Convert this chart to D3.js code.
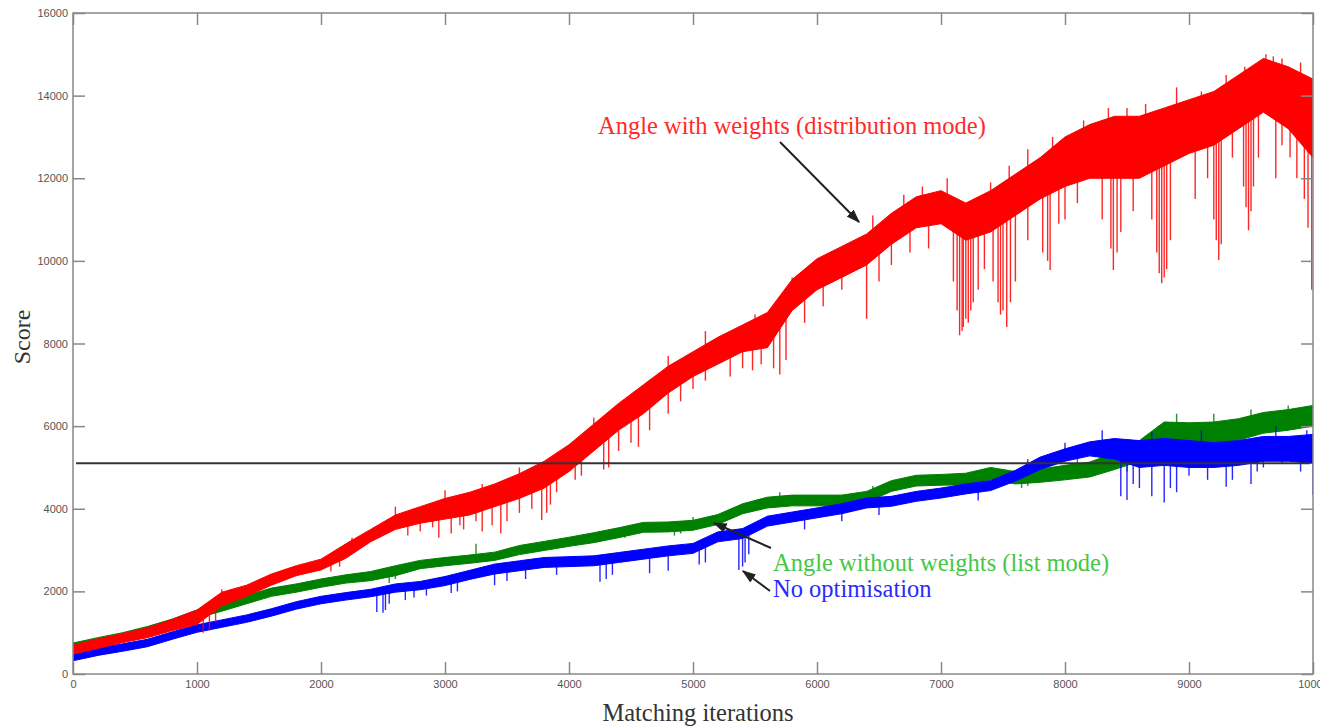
<!DOCTYPE html>
<html>
<head>
<meta charset="utf-8">
<script src="https://cdn.jsdelivr.net/npm/d3@7"></script>
<style>
  body { margin: 0; background: #fff; }
  .tick text { font-family: "Liberation Sans", Arial, sans-serif; font-size: 11px; fill: #555; }
  .tick line { stroke: #888; stroke-width: 1.5; }
  .domain { display: none; }
</style>
</head>
<body>
<div class="chart"></div>
<script>
//= ================================
var iterations = [0, 200, 400, 600, 800, 1000, 1200, 1400, 1600, 1800, 2000, 2200, 2400, 2600, 2800,
  3000, 3200, 3400, 3600, 3800, 4000, 4200, 4400, 4600, 4800, 5000, 5200, 5400, 5600, 5800,
  6000, 6200, 6400, 6600, 6800, 7000, 7200, 7400, 7600, 7800, 8000, 8200, 8400, 8600, 8800,
  9000, 9200, 9400, 9600, 9800, 10000];

// Angle with weights (distribution mode) - upper / lower edge of the dense band
var redTop = [700, 850, 980, 1120, 1320, 1550, 1980, 2150, 2420, 2620, 2780, 3150, 3500, 3850, 4050,
  4250, 4400, 4600, 4850, 5150, 5550, 6050, 6550, 7000, 7450, 7800, 8150, 8450, 8750, 9550,
  10050, 10350, 10650, 11150, 11550, 11700, 11400, 11700, 12100, 12500, 13000, 13300, 13500, 13500, 13700,
  13900, 14100, 14500, 14900, 14700, 14400];
var redBot = [480, 620, 760, 880, 1050, 1200, 1650, 1880, 2150, 2380, 2520, 2800, 3200, 3500, 3650,
  3750, 3850, 4050, 4250, 4500, 4900, 5400, 5900, 6300, 6800, 7200, 7500, 7800, 7900, 8800,
  9300, 9600, 9900, 10400, 10800, 10900, 10500, 10700, 11100, 11500, 11800, 12000, 12000, 12000, 12300,
  12600, 12800, 13200, 13600, 13200, 12500];

// Angle without weights (list mode)
var greenTop = [750, 880, 1000, 1150, 1330, 1550, 1720, 1900, 2080, 2180, 2300, 2400, 2480, 2620, 2750,
  2820, 2880, 2950, 3110, 3210, 3310, 3420, 3540, 3670, 3680, 3720, 3860, 4120, 4280, 4330,
  4330, 4330, 4420, 4680, 4810, 4830, 4860, 5000, 4900, 4960, 5050, 5130, 5350, 5650, 6100,
  6080, 6100, 6180, 6330, 6400, 6500];
var greenBot = [550, 680, 800, 950, 1130, 1350, 1520, 1700, 1880, 1980, 2100, 2200, 2260, 2380, 2550,
  2620, 2680, 2750, 2890, 2990, 3090, 3180, 3300, 3430, 3440, 3480, 3620, 3880, 4020, 4070,
  4070, 4070, 4160, 4420, 4550, 4570, 4580, 4700, 4600, 4640, 4700, 4770, 4950, 5150, 5650,
  5620, 5600, 5660, 5830, 5900, 6000];

// No optimisation
var blueTop = [520, 630, 730, 840, 1020, 1190, 1310, 1430, 1580, 1750, 1880, 1970, 2050, 2180, 2240,
  2360, 2510, 2660, 2740, 2820, 2840, 2860, 2940, 3020, 3100, 3160, 3440, 3520, 3820, 3920,
  4020, 4120, 4260, 4300, 4420, 4500, 4600, 4680, 4930, 5250, 5450, 5620, 5700, 5650, 5700,
  5650, 5600, 5650, 5750, 5750, 5800];
var blueBot = [320, 450, 550, 660, 840, 1010, 1130, 1250, 1400, 1570, 1700, 1790, 1870, 1980, 2040,
  2140, 2290, 2420, 2500, 2580, 2600, 2620, 2700, 2780, 2860, 2920, 3200, 3280, 3580, 3680,
  3780, 3880, 4020, 4060, 4180, 4260, 4360, 4440, 4670, 4950, 5150, 5280, 5200, 5000, 5050,
  5000, 5000, 5050, 5150, 5150, 5100];

// single spikes sticking out of the band: [iteration, score]
var redSpikes = [[1050, 1000], [1100, 1050], [1150, 1250], [2080, 2480], [2150, 2600], [2700, 3350],
  [2800, 3450], [2900, 3550], [2950, 3300], [3050, 3400], [3120, 3600], [3150, 3500], [3250, 3700],
  [3300, 3450], [3380, 3600], [3450, 3400], [3500, 3700], [3600, 3900], [3700, 4000], [3780, 3730],
  [3820, 3900], [3850, 4100], [3900, 4400], [4050, 4700], [4100, 4800], [4280, 4950], [4320, 5000],
  [4400, 5400], [4500, 5600], [4560, 5500], [4650, 5900], [4800, 6300], [4900, 6600], [5000, 6900],
  [5100, 7100], [5300, 7200], [5400, 7400], [5480, 7350], [5550, 7500], [5650, 7400], [5700, 7250],
  [5750, 7600], [5900, 8500], [6050, 8900], [6200, 9300], [6400, 8600], [6500, 9500], [6600, 9900],
  [6750, 10200], [6900, 10300], [7100, 9500], [7130, 8800], [7150, 8200], [7170, 8300], [7180, 8400],
  [7200, 8600], [7220, 8500], [7240, 8800], [7260, 9000], [7300, 9300], [7350, 9800], [7420, 9500],
  [7460, 9000], [7480, 8700], [7500, 8800], [7530, 8400], [7560, 9000], [7600, 9500], [7700, 10500],
  [7820, 10200], [7860, 10000], [7880, 9780], [7950, 10900], [8000, 11000], [8100, 11400], [8300, 11000],
  [8370, 10300], [8390, 9780], [8420, 10200], [8450, 10700], [8550, 11200], [8700, 11000], [8740, 10200],
  [8760, 9700], [8780, 9460], [8800, 9600], [8820, 9800], [8850, 10500], [9050, 11500], [9150, 12000],
  [9200, 11000], [9220, 10500], [9240, 10020], [9260, 10400], [9350, 12500], [9440, 11800], [9460, 11300],
  [9480, 10740], [9500, 11200], [9520, 11800], [9560, 12500], [9700, 12000], [9750, 12800],
  [9815, 12510], [9870, 12000], [9930, 11500], [9960, 10800], [9990, 9300],
  [1200, 2050], [2250, 3300], [2600, 4050], [3000, 4450], [3300, 4600], [3600, 5000], [3900, 5300],
  [4200, 6200], [4500, 6700], [4800, 7700], [5100, 8300], [5500, 8700], [5800, 9600], [6100, 10200],
  [6300, 10500], [6450, 11100], [6700, 11600], [6850, 11800], [7050, 12000], [7400, 11900], [7550, 12300],
  [7700, 12700], [7900, 13000], [8150, 13400], [8350, 13700], [8500, 13700], [8650, 13800], [8900, 14200],
  [9100, 14100], [9300, 14500], [9450, 14700], [9620, 15000], [9680, 14950], [9750, 14900], [9900, 14800]];
var greenSpikes = [[2550, 2200], [2600, 2300], [3250, 3150], [4450, 3300], [4850, 3350], [4900, 3400],
  [5000, 3800], [5700, 4400], [6450, 4550], [7650, 4500], [7700, 4550], [8100, 5300], [8400, 5500],
  [8500, 4900], [8600, 5000], [8750, 6000], [8900, 6300], [9000, 5400], [9200, 6300], [9500, 6400],
  [9800, 6500], [9950, 6450]];
var blueSpikes = [[2450, 1500], [2500, 1480], [2520, 1550], [2550, 1700], [2680, 1790], [2750, 1850],
  [2850, 1900], [3050, 1960], [3100, 2000], [3400, 2150], [3500, 2250], [3650, 2300], [3900, 2400],
  [4250, 2230], [4300, 2300], [4350, 2400], [4650, 2440], [4800, 2500], [5050, 2650], [5100, 2700],
  [5370, 2520], [5400, 2600], [5420, 2700], [5450, 2900], [5900, 3500], [6200, 3700], [6500, 3850],
  [7300, 4200], [8450, 4300], [8500, 4210], [8550, 4600], [8600, 4500], [8700, 4300], [8800, 4150],
  [8850, 4500], [8900, 4400], [9000, 4800], [9150, 4700], [9300, 4530], [9350, 4700], [9500, 4600],
  [9550, 4900], [9600, 5000], [9750, 5100], [9900, 4900], [10000, 4330],
  [7700, 5200], [8000, 5600], [8300, 5900], [8700, 5850], [9100, 5900], [9700, 6000], [9950, 5900]];

var referenceScore = 5100;

var xTicks = [0, 1000, 2000, 3000, 4000, 5000, 6000, 7000, 8000, 9000, 10000];
var yTicks = [0, 2000, 4000, 6000, 8000, 10000, 12000, 14000, 16000];

// Step 1: Set up the chart
//= ================================
var svgWidth = 1320;
var svgHeight = 728;

var margin = { top: 13, right: 7, bottom: 54, left: 73 };
var width = svgWidth - margin.left - margin.right;
var height = svgHeight - margin.top - margin.bottom;

var svg = d3.select(".chart")
  .append("svg")
  .attr("width", svgWidth)
  .attr("height", svgHeight);

var defs = svg.append("defs");
defs.append("clipPath").attr("id", "plotClip")
  .append("rect").attr("width", width).attr("height", height);
defs.append("marker")
  .attr("id", "arrow")
  .attr("viewBox", "0 0 10 10")
  .attr("refX", 9).attr("refY", 5)
  .attr("markerWidth", 7).attr("markerHeight", 7)
  .attr("orient", "auto")
  .append("path").attr("d", "M0,1.5 L10,5 L0,8.5 Z").attr("fill", "#222");

var chartGroup = svg.append("g")
  .attr("transform", `translate(${margin.left}, ${margin.top})`);

// Step 2: Scales
//= ================================
var xScale = d3.scaleLinear().domain([0, 10000]).range([0, width]);
var yScale = d3.scaleLinear().domain([0, 16000]).range([height, 0]);

// Step 3: Series (dense band + spikes)
//= ================================
function drawSeries(top, bot, spikes, color) {
  var rows = iterations.map((it, i) => ({ it: it, top: top[i], bot: bot[i] }));
  var mid = d3.scaleLinear().domain(iterations).range(iterations.map((it, i) => (top[i] + bot[i]) / 2));

  var area = d3.area()
    .x(d => xScale(d.it))
    .y0(d => yScale(d.bot))
    .y1(d => yScale(d.top));

  var g = chartGroup.append("g").attr("clip-path", "url(#plotClip)");
  g.append("path")
    .datum(rows)
    .attr("d", area)
    .attr("fill", color)
    .attr("stroke", color)
    .attr("stroke-width", 1)
    .attr("stroke-linejoin", "round");

  g.selectAll("line.spike")
    .data(spikes)
    .enter()
    .append("line")
    .attr("class", "spike")
    .attr("x1", d => xScale(d[0]))
    .attr("x2", d => xScale(d[0]))
    .attr("y1", d => yScale(mid(d[0])))
    .attr("y2", d => yScale(d[1]))
    .attr("stroke", color)
    .attr("stroke-width", 1.4)
    .attr("stroke-opacity", 0.85);
}

drawSeries(greenTop, greenBot, greenSpikes, "#008000");
drawSeries(blueTop, blueBot, blueSpikes, "#0000ff");
drawSeries(redTop, redBot, redSpikes, "#ff0000");

// reference line
chartGroup.append("line")
  .attr("x1", 3).attr("x2", width - 3)
  .attr("y1", yScale(referenceScore)).attr("y2", yScale(referenceScore))
  .attr("stroke", "#333")
  .attr("stroke-width", 2);

// Step 4: Axes (ticks pointing inwards, MATLAB style)
//= ================================
chartGroup.append("g")
  .attr("transform", `translate(0, ${height})`)
  .call(d3.axisBottom(xScale).tickValues(xTicks).tickFormat(d3.format("d")).tickSize(-12).tickSizeOuter(0).tickPadding(6));

chartGroup.append("g")
  .call(d3.axisLeft(yScale).tickValues(yTicks).tickFormat(d3.format("d")).tickSize(-12).tickSizeOuter(0).tickPadding(5));

chartGroup.append("g")
  .call(d3.axisTop(xScale).tickValues(xTicks).tickFormat("").tickSize(-12).tickSizeOuter(0));

chartGroup.append("g")
  .attr("transform", `translate(${width}, 0)`)
  .call(d3.axisRight(yScale).tickValues(yTicks).tickFormat("").tickSize(-12).tickSizeOuter(0));

chartGroup.append("rect")
  .attr("width", width)
  .attr("height", height)
  .attr("fill", "none")
  .attr("stroke", "#888")
  .attr("stroke-width", 1.5);

// axis titles
svg.append("text")
  .attr("x", margin.left + width / 2 + 5)
  .attr("y", 721)
  .attr("text-anchor", "middle")
  .style("font-family", "'Liberation Serif', 'Times New Roman', serif")
  .style("font-size", "24.5px")
  .attr("fill", "#333")
  .text("Matching iterations");

svg.append("text")
  .attr("transform", "translate(30, 337) rotate(-90)")
  .attr("text-anchor", "middle")
  .style("font-family", "'Liberation Serif', 'Times New Roman', serif")
  .style("font-size", "24px")
  .attr("fill", "#333")
  .text("Score");

// Step 5: Annotations
//= ================================
var notes = [
  { text: "Angle with weights (distribution mode)", x: 598, y: 134, color: "#ff2a2a", from: [780, 142], to: [859, 222] },
  { text: "Angle without weights (list mode)", x: 773, y: 571, color: "#44c844", from: [771, 548], to: [714, 523] },
  { text: "No optimisation", x: 773, y: 597, color: "#2a2aff", from: [770, 591], to: [743, 571] }
];

notes.forEach(function(n) {
  svg.append("text")
    .attr("x", n.x)
    .attr("y", n.y)
    .style("font-family", "'Liberation Serif', 'Times New Roman', serif")
    .style("font-size", "24.5px")
    .attr("fill", n.color)
    .text(n.text);

  svg.append("line")
    .attr("x1", n.from[0]).attr("y1", n.from[1])
    .attr("x2", n.to[0]).attr("y2", n.to[1])
    .attr("stroke", "#222")
    .attr("stroke-width", 2)
    .attr("marker-end", "url(#arrow)");
});
</script>
</body>
</html>
